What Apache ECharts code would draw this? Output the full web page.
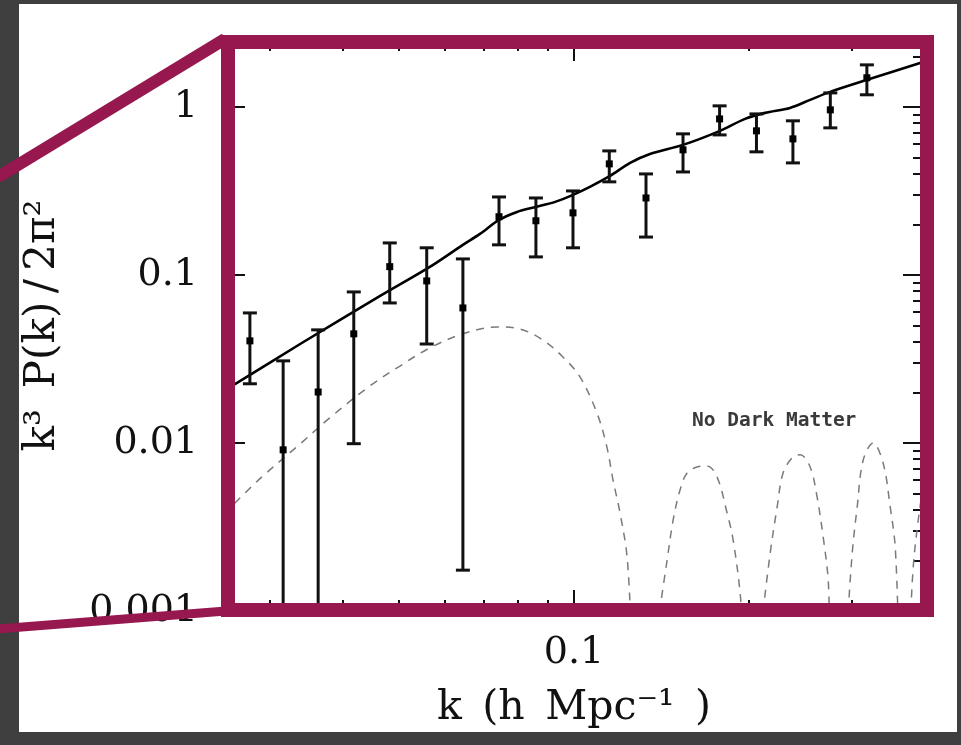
<!DOCTYPE html>
<html>
<head>
<meta charset="utf-8">
<script src="https://cdn.jsdelivr.net/npm/echarts@6/dist/echarts.min.js"></script>
<style>
html, body { margin: 0; padding: 0; background: #3f3f3f; }
#chart { width: 961px; height: 745px; }
</style>
</head>
<body>
<div id="chart"></div>
<script>
// measured points with error bars
var kData = [0.0277, 0.0316, 0.0363, 0.0418, 0.0482, 0.0558, 0.0644, 0.0743, 0.0860, 0.0996, 0.115, 0.133, 0.154, 0.178, 0.206, 0.238, 0.276, 0.319];
var pData = [0.0405, 0.0091, 0.0201, 0.0446, 0.112, 0.0921, 0.0636, 0.222, 0.210, 0.234, 0.458, 0.287, 0.555, 0.848, 0.720, 0.645, 0.960, 1.49];
var pLow = [0.0225, 0.0005, 0.0005, 0.0099, 0.0681, 0.0388, 0.00175, 0.151, 0.128, 0.145, 0.358, 0.168, 0.410, 0.681, 0.540, 0.464, 0.750, 1.18];
var pHigh = [0.0594, 0.0308, 0.0471, 0.0792, 0.155, 0.145, 0.1245, 0.291, 0.287, 0.316, 0.547, 0.399, 0.691, 1.014, 0.908, 0.826, 1.211, 1.778];

// model with dark matter (solid)
var curveK = [0.025, 0.0338, 0.0464, 0.0565, 0.0644, 0.0689, 0.0743, 0.0798, 0.0860, 0.0928, 0.0996, 0.1065, 0.1153, 0.1249, 0.1351, 0.154, 0.1783, 0.1969, 0.2132, 0.2353, 0.2548, 0.2758, 0.3193, 0.4];
var curveP = [0.0204, 0.0388, 0.0750, 0.1116, 0.151, 0.1754, 0.2125, 0.2371, 0.254, 0.272, 0.2994, 0.334, 0.388, 0.4645, 0.525, 0.594, 0.720, 0.848, 0.921, 0.986, 1.101, 1.228, 1.448, 1.853];

// no dark matter (dashed), null = the curve drops through zero
var nodmK = [0.025, 0.0288, 0.0338, 0.0380, 0.0446, 0.0502, 0.0565, 0.0644, 0.0737, 0.0807, 0.0884, 0.0957, 0.1024, 0.1095, 0.1139, 0.1167, 0.1200, 0.1234, 0.1253, null,
  0.1390, 0.1446, 0.1481, 0.1522, 0.1565, 0.1628, 0.1694, 0.1762, 0.1834, 0.1878, 0.1931, 0.1946, null,
  0.2099, 0.2175, 0.2236, 0.2289, 0.2381, 0.2449, 0.2548, 0.2619, 0.2683, 0.2737, 0.2750, null,
  0.2951, 0.3010, 0.3070, 0.3144, 0.3271, 0.3402, 0.3499, 0.3569, 0.3612, null,
  0.3787, 0.3833, 0.3910, 0.4];
var nodmP = [0.00378, 0.00611, 0.00986, 0.0141, 0.0219, 0.0287, 0.0368, 0.0446, 0.049, 0.0477, 0.0410, 0.0325, 0.0247, 0.0151, 0.00947, 0.00603, 0.00383, 0.0021, 0.0008, null,
  0.0008, 0.00201, 0.00348, 0.00525, 0.00663, 0.0072, 0.0073, 0.00628, 0.00383, 0.00265, 0.00128, 0.0008, null,
  0.0008, 0.00221, 0.00416, 0.00663, 0.00826, 0.00851, 0.0072, 0.00477, 0.00276, 0.00153, 0.0008, null,
  0.0008, 0.00221, 0.00416, 0.00792, 0.0100, 0.0076, 0.00416, 0.0024, 0.0008, null,
  0.0008, 0.00183, 0.00348, 0.006];

// ticks
var xMajor = [0.1];
var xMinor = [0.03, 0.04, 0.05, 0.06, 0.07, 0.08, 0.09, 0.2, 0.3];
var yMajor = [0.001, 0.01, 0.1, 1];
var yMinor = [0.002, 0.003, 0.004, 0.005, 0.006, 0.007, 0.008, 0.009,
  0.02, 0.03, 0.04, 0.05, 0.06, 0.07, 0.08, 0.09,
  0.2, 0.3, 0.4, 0.5, 0.6, 0.7, 0.8, 0.9, 2];

var maroon = '#97174f';
var serif = 'DejaVu Serif';

var myChart = echarts.init(document.getElementById('chart'));

function axis (dim, position, ticks, len, withLabels) {
  var a = {
    type: 'log',
    logBase: 10,
    position: position,
    min: dim === 'x' ? 0.025 : 0.001,
    max: dim === 'x' ? 0.4 : 2.5,
    axisLine: { show: false, onZero: false },
    splitLine: { show: false },
    minorTick: { show: false },
    axisTick: { show: true, inside: true, length: len, customValues: ticks, lineStyle: { color: '#111', width: 2 } },
    axisLabel: { show: false }
  };
  if (withLabels) {
    a.axisLabel = {
      show: true,
      customValues: ticks,
      margin: dim === 'x' ? 23 : 26,
      fontFamily: serif,
      fontSize: 38,
      color: '#111',
      formatter: function (v) { return String(v) }
    };
  }
  return a;
}

var xAxes = [
  axis('x', 'bottom', xMajor, 21, true),
  axis('x', 'bottom', xMinor, 11, false),
  axis('x', 'top', xMajor, 21, false),
  axis('x', 'top', xMinor, 11, false)
];
xAxes[0].name = 'k\u2002(h\u2002Mpc\u207B\u00B9\u2002)';
xAxes[0].nameLocation = 'middle';
xAxes[0].nameGap = 77;
xAxes[0].nameTextStyle = { fontFamily: serif, fontSize: 41, color: '#111' };

var yAxes = [
  axis('y', 'left', yMajor, 21, true),
  axis('y', 'left', yMinor, 11, false),
  axis('y', 'right', yMajor, 21, false),
  axis('y', 'right', yMinor, 11, false)
];
yAxes[0].name = 'k\u00B3\u2002P(k)\u2009/\u20092\u03C0\u00B2';
yAxes[0].nameLocation = 'middle';
yAxes[0].nameRotate = 90;
yAxes[0].nameGap = 160;
yAxes[0].nameTextStyle = { fontFamily: serif, fontSize: 42, color: '#111' };

var option = {
  animation: false,
  grid: { left: 224, top: 40, width: 700, height: 571 },
  xAxis: xAxes,
  yAxis: yAxes,
  graphic: {
    elements: [
      { type: 'rect', z: -10, silent: true, shape: { x: 19, y: 4, width: 938, height: 728 }, style: { fill: '#fff' } },
      { type: 'rect', z: 50, silent: true, shape: { x: 0, y: 732, width: 961, height: 13 }, style: { fill: '#3f3f3f' } },
      { type: 'rect', z: 50, silent: true, shape: { x: 228, y: 42, width: 699, height: 568 }, style: { fill: 'none', stroke: maroon, lineWidth: 14 } },
      { type: 'line', z: 60, silent: true, shape: { x1: -2, y1: 177, x2: 225, y2: 39 }, style: { stroke: maroon, lineWidth: 12 } },
      { type: 'line', z: 60, silent: true, shape: { x1: -2, y1: 629, x2: 226, y2: 611 }, style: { stroke: maroon, lineWidth: 9 } },
      { type: 'text', z: 20, silent: true, x: 692, y: 421, style: { text: 'No Dark Matter', font: 'bold 19.5px "DejaVu Sans Mono"', fill: '#3a3a3a', verticalAlign: 'middle' } }
    ]
  },
  series: [
    {
      name: 'model',
      type: 'line',
      data: curveK.map(function (k, i) { return [k, curveP[i]] }),
      showSymbol: false,
      smooth: 0.3,
      lineStyle: { color: '#000', width: 2.6 },
      z: 3
    },
    {
      name: 'no dark matter',
      type: 'line',
      data: nodmK.map(function (k, i) { return nodmP[i] == null ? [k, '-'] : [k, nodmP[i]] }),
      showSymbol: false,
      connectNulls: false,
      smooth: 0.35,
      lineStyle: { color: '#7a7a7a', width: 1.5, type: [8, 7] },
      z: 2
    },
    {
      name: 'data',
      type: 'custom',
      clip: true,
      data: kData.map(function (k, i) { return [k, pData[i], pLow[i], pHigh[i]] }),
      encode: { x: 0, y: [1, 2, 3] },
      renderItem: function (params, api) {
        var k = api.value(0);
        var c = api.coord([k, api.value(1)]);
        var lo = api.coord([k, api.value(2)]);
        var hi = api.coord([k, api.value(3)]);
        var st = { stroke: '#111', lineWidth: 3 };
        return {
          type: 'group',
          children: [
            { type: 'line', shape: { x1: c[0], y1: lo[1], x2: c[0], y2: hi[1] }, style: st },
            { type: 'line', shape: { x1: c[0] - 7, y1: hi[1], x2: c[0] + 7, y2: hi[1] }, style: st },
            { type: 'line', shape: { x1: c[0] - 7, y1: lo[1], x2: c[0] + 7, y2: lo[1] }, style: st },
            { type: 'rect', shape: { x: c[0] - 3.5, y: c[1] - 3.5, width: 7, height: 7 }, style: { fill: '#000' } }
          ]
        };
      },
      z: 4
    }
  ]
};
myChart.setOption(option);
</script>
</body>
</html>
